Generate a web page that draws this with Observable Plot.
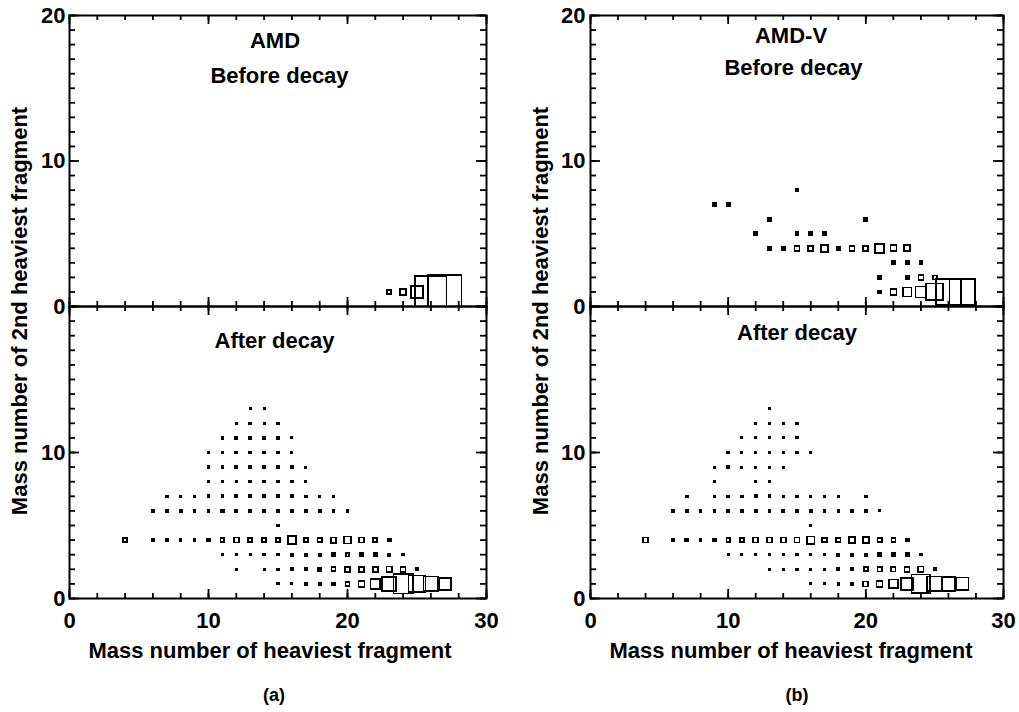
<!DOCTYPE html>
<html><head><meta charset="utf-8">
<script src="https://cdn.jsdelivr.net/npm/d3@7"></script>
<script src="https://cdn.jsdelivr.net/npm/@observablehq/plot@0.6"></script>
<style>
html,body{margin:0;padding:0;background:#fff;}
#chart{position:relative;width:1019px;height:712px;overflow:hidden;font-family:"Liberation Sans",Arial,Helvetica,sans-serif;}
.panel{position:absolute;}
.overlay{position:absolute;left:0;top:0;pointer-events:none;}
</style></head><body><div id="chart"></div>
<script>
// ---- tick values and labels ----
const xTicks = [0, 10, 20, 30];
const xMinorTicks = [0, 2, 4, 6, 8, 10, 12, 14, 16, 18, 20, 22, 24, 26, 28, 30];
const yTicksTop = [0, 10, 20];
const yTicksBottom = [0, 10];
const yMajorTicks = [0, 10, 20];
const yMinorTicks = [0, 1, 2, 3, 4, 5, 6, 7, 8, 9, 10, 11, 12, 13, 14, 15, 16, 17, 18, 19, 20];

// ---- texts ----
const modelNames = ["AMD", "AMD-V"];
const stageNames = ["Before decay", "After decay"];
const xTitle = "Mass number of heaviest fragment";
const yTitle = "Mass number of 2nd heaviest fragment";
const captions = ["(a)", "(b)"];

// ---- data: rows of [A2 (y), first A1 (x), relative yields for consecutive A1; null = empty] ----
const amdBefore = [
  [1, 23, [14, 34, 139, 1011, 1142]]
];
const amdAfter = [
  [13, 13, [1, 1]],
  [12, 12, [2, 2, 1, 1]],
  [11, 11, [3, 3, 2, 2, 2, 1]],
  [10, 10, [2, 3, 3, 2, 2, 2, 1]],
  [9, 10, [2, 3, 3, 3, 2, 2, 2, 1]],
  [8, 10, [2, 2, 2, 2, 2, 2, 2, 1]],
  [7, 7, [2, 2, 2, 3, 3, 3, 3, 3, 3, 3, 2, 2, 1]],
  [6, 6, [3, 3, 3, 3, 3, 5, 5, 5, 5, 5, 3, 3, 3, 2, 2]],
  [5, 15, [1]],
  [4, 4, [14, null, 5, 5, 2, 3, 5, 11, 23, 14, 14, 18, 61, 14, 18, 28, 46, 23, 14, 8]],
  [3, 11, [1, 1, 1, 2, 2, 3, 3, 5, 8, 11, 8, 8, 5, 2]],
  [2, 12, [1, null, 1, 2, 3, 3, 8, 14, 23, 23, 23, 28, 23, 3]],
  [1, 15, [1, 1, 2, 3, 5, 14, 34, 96, 190, 384, 282, 219, 139]]
];
const amdvBefore = [
  [8, 15, [8]],
  [7, 9, [8, 8]],
  [6, 13, [8]],
  [6, 20, [8]],
  [5, 12, [8]],
  [5, 15, [8, 8, 8]],
  [4, 13, [8, 8, 23, 23, 46, 8, 23, 23, 77, 34, 34]],
  [3, 22, [8, 8, 8]],
  [2, 21, [8]],
  [2, 23, [8, 23, 14]],
  [1, 21, [8, 34, 77, 117, 282, 666, 666]]
];
const amdvAfter = [
  [13, 13, [1]],
  [12, 12, [1, 1, 1, 1]],
  [11, 11, [1, 1, 1, 1, 1]],
  [10, 10, [2, 1, 1, 1, 1, 1, 1]],
  [9, 9, [1, 2, 1, 1, 1, 1]],
  [8, 9, [1, null, null, 2, 1]],
  [7, 7, [2, null, 2, 2, 2, 3, 3, 2, 2, 2, 2, 2, null, 2]],
  [6, 6, [3, 3, 2, 3, 3, 3, 3, 3, 3, 3, 3, 3, 2, 2, 2, 1]],
  [5, 16, [1]],
  [4, 4, [23, null, 8, 8, 2, 5, 11, 14, 23, 23, 23, 23, 53, 18, 18, 34, 34, 18, 14, 8]],
  [3, 10, [1, 1, 1, 1, 2, 2, 2, 2, 3, 5, 5, 8, 8, 8, 2]],
  [2, 13, [1, 1, 1, 2, 2, 3, 5, 14, 18, 18, 23, 28, 3]],
  [1, 16, [1, 1, 2, 5, 23, 34, 77, 139, 353, 219, 190, 164]]
];

function expand(rows) {
  const out = [];
  for (const [y, x0, ns] of rows) ns.forEach((n, i) => { if (n != null) out.push({x: x0 + i, y, n}); });
  return out;
}

const FONT = '"Liberation Sans", Arial, Helvetica, sans-serif';
const chart = document.getElementById("chart");
const SQ = Math.sqrt(Math.PI);

function panel(opts) {
  const {data, left, top, width, height, ml, mr, mt, mb, yLabels, xLabels, titles, yLabelDx} = opts;
  const fw = width - ml - mr, fh = height - mt - mb;
  const marks = [
    Plot.dot(data, {x: "x", y: "y", r: "n", symbol: "square", stroke: "black", strokeWidth: 1.7,
      fill: d => d.n <= 8 ? "black" : "none", shapeRendering: "crispEdges", clip: true}),
    Plot.frame({stroke: "black", strokeWidth: 2}),
    Plot.tickX(xMinorTicks, {x: d => d, insetTop: fh - 5, stroke: "black", strokeWidth: 1.8}),
    Plot.tickX(xMinorTicks, {x: d => d, insetBottom: fh - 5, stroke: "black", strokeWidth: 1.8}),
    Plot.tickX(xTicks, {x: d => d, insetTop: fh - 9, stroke: "black", strokeWidth: 1.8}),
    Plot.tickX(xTicks, {x: d => d, insetBottom: fh - 9, stroke: "black", strokeWidth: 1.8}),
    Plot.tickY(yMinorTicks, {y: d => d, insetRight: fw - 6, stroke: "black", strokeWidth: 1.8}),
    Plot.tickY(yMinorTicks, {y: d => d, insetLeft: fw - 6, stroke: "black", strokeWidth: 1.8}),
    Plot.tickY(yMajorTicks, {y: d => d, insetRight: fw - 10, stroke: "black", strokeWidth: 1.8}),
    Plot.tickY(yMajorTicks, {y: d => d, insetLeft: fw - 10, stroke: "black", strokeWidth: 1.8}),
    Plot.text(yLabels, {y: d => d, text: d => String(d), frameAnchor: "left", textAnchor: "end", lineAnchor: "middle", dx: yLabelDx, fontSize: 22, fontWeight: "bold", fill: "black"})
  ];
  if (xLabels) marks.push(Plot.text(xTicks, {x: d => d, text: d => String(d), frameAnchor: "bottom", lineAnchor: "middle", dy: 22, fontSize: 22, fontWeight: "bold", fill: "black"}));
  for (const t of titles) {
    marks.push(Plot.text([t.text], {text: d => d, frameAnchor: "top", lineAnchor: "middle", dx: t.dx, dy: t.dy, fontSize: 22, fontWeight: "bold", fill: "black"}));
  }
  const svg = Plot.plot({
    width, height, marginLeft: ml, marginRight: mr, marginTop: mt, marginBottom: mb,
    x: {domain: [0, 30], axis: null},
    y: {domain: [0, 20], axis: null},
    r: {type: "sqrt", domain: [0, 100], range: [0.33 / SQ, 10.09 / SQ]},
    style: {background: "transparent", overflow: "visible", fontFamily: FONT, color: "black"},
    marks
  });
  const div = document.createElement("div");
  div.className = "panel";
  div.style.left = left + "px";
  div.style.top = top + "px";
  div.appendChild(svg);
  chart.appendChild(div);
}

// left column (a): frame x 69..486 ; right column (b): frame x 590..1003
panel({data: expand(amdBefore), left: 0, top: 0, width: 500, height: 320, ml: 69, mr: 14, mt: 15, mb: 14,
  yLabels: yTicksTop, xLabels: false, yLabelDx: -4,
  titles: [{text: modelNames[0], dx: -3, dy: 25.5}, {text: stageNames[0], dx: 1.5, dy: 60.5}]});
panel({data: expand(amdAfter), left: 0, top: 290, width: 500, height: 360, ml: 69, mr: 14, mt: 16, mb: 52,
  yLabels: yTicksBottom, xLabels: true, yLabelDx: -4,
  titles: [{text: stageNames[1], dx: -3.5, dy: 34.5}]});
panel({data: expand(amdvBefore), left: 520, top: 0, width: 499, height: 320, ml: 70, mr: 16, mt: 15, mb: 14,
  yLabels: yTicksTop, xLabels: false, yLabelDx: -5,
  titles: [{text: modelNames[1], dx: -6, dy: 20.5}, {text: stageNames[0], dx: -3.5, dy: 52.5}]});
panel({data: expand(amdvAfter), left: 520, top: 290, width: 499, height: 360, ml: 70, mr: 16, mt: 16, mb: 52,
  yLabels: yTicksBottom, xLabels: true, yLabelDx: -5,
  titles: [{text: stageNames[1], dx: 0, dy: 26.5}]});

// axis titles and captions
const ov = d3.create("svg").attr("class", "overlay").attr("width", 1019).attr("height", 712)
  .style("font-family", FONT).style("font-weight", "bold");
const cols = [{yx: 27, xx: 270, cx: 274}, {yx: 548, xx: 791, cx: 797}];
cols.forEach((c, i) => {
  ov.append("text").attr("transform", `translate(${c.yx},311) rotate(-90)`).attr("text-anchor", "middle")
    .attr("font-size", 22).text(yTitle);
  ov.append("text").attr("x", c.xx).attr("y", 658).attr("text-anchor", "middle").attr("font-size", 22).text(xTitle);
  ov.append("text").attr("x", c.cx).attr("y", 701).attr("text-anchor", "middle").attr("font-size", 18).text(captions[i]);
});
chart.appendChild(ov.node());
</script>
</body></html>
